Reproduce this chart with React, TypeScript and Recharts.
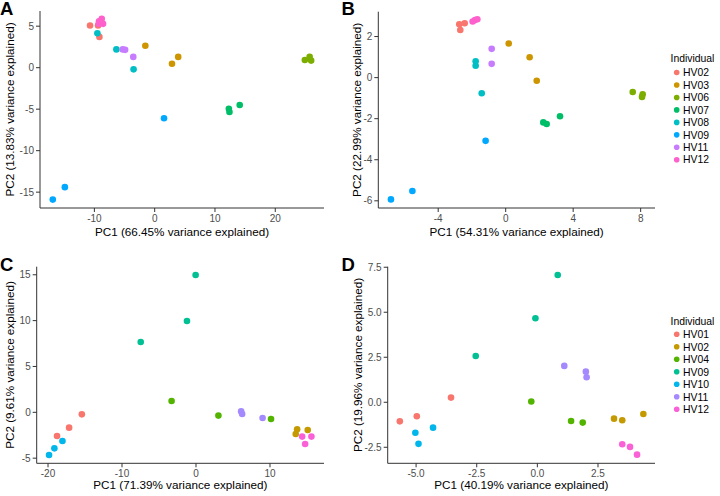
import React from 'react';
import { ScatterChart, Scatter, XAxis, YAxis } from 'recharts';

// ---------- legend / colour tables ----------
const individualsTop = ['HV02', 'HV03', 'HV06', 'HV07', 'HV08', 'HV09', 'HV11', 'HV12'];
const colorsTop = ['#F8766D', '#CD9600', '#7CAE00', '#00BE67', '#00BFC4', '#00A9FF', '#C77CFF', '#FF61CC'];
const individualsBottom = ['HV01', 'HV02', 'HV04', 'HV09', 'HV10', 'HV11', 'HV12'];
const colorsBottom = ['#F8766D', '#C49A00', '#53B400', '#00C094', '#00B6EB', '#A58AFF', '#FB61D7'];

// ---------- panel A (PC1, PC2) ----------
const aHV02 = [[-10.72, 5.08], [-9.39, 5.08], [-9.17, 3.71]];
const aHV03 = [[-1.55, 2.65], [2.87, 0.48], [3.9, 1.3]];
const aHV06 = [[24.9, 0.93], [25.7, 1.3], [25.95, 0.85]];
const aHV07 = [[12.3, -4.95], [12.4, -5.35], [14.1, -4.5]];
const aHV08 = [[-9.5, 4.15], [-6.35, 2.2], [-3.5, -0.2]];
const aHV09 = [[1.55, -6.1], [-14.9, -14.4], [-16.9, -15.9]];
const aHV11 = [[-5.3, 2.2], [-4.9, 2.15], [-3.55, 1.3]];
const aHV12 = [[-8.78, 5.89], [-9.23, 5.6], [-8.56, 5.28], [-9.28, 5.28]];

// ---------- panel B ----------
const bHV02 = [[-2.75, 2.6], [-2.43, 2.65], [-2.69, 2.32]];
const bHV03 = [[0.18, 1.66], [1.42, 0.99], [1.84, -0.15]];
const bHV06 = [[7.53, -0.7], [8.12, -0.81], [8.08, -0.94]];
const bHV07 = [[2.23, -2.18], [2.43, -2.26], [3.22, -1.88]];
const bHV08 = [[-1.78, 0.8], [-1.78, 0.58], [-1.42, -0.76]];
const bHV09 = [[-1.19, -3.08], [-5.53, -5.52], [-6.8, -5.93]];
const bHV11 = [[-0.83, 1.4], [-0.83, 0.67]];
const bHV12 = [[-1.96, 2.73], [-1.82, 2.8], [-1.68, 2.84]];

// ---------- panel C ----------
const cHV01 = [[-15.43, -0.22], [-17.15, -1.67], [-18.78, -2.58]];
const cHV02 = [[13.67, -1.85], [13.48, -2.36], [15.1, -1.93]];
const cHV04 = [[-3.3, 1.24], [3.03, -0.36], [10.14, -0.73]];
const cHV09 = [[-0.05, 14.98], [-1.22, 9.96], [-7.47, 7.67]];
const cHV10 = [[-18.05, -3.13], [-19.14, -3.93], [-19.86, -4.65]];
const cHV11 = [[6.1, 0.1], [6.24, -0.18], [9.0, -0.62]];
const cHV12 = [[14.35, -2.65], [14.75, -3.45], [15.6, -2.65]];

// ---------- panel D ----------
const dHV01 = [[-5.67, -1.06], [-4.97, -0.78], [-3.56, 0.26]];
const dHV02 = [[3.16, -0.91], [3.5, -1.0], [4.37, -0.65]];
const dHV04 = [[-0.25, 0.04], [1.39, -1.04], [1.87, -1.13]];
const dHV09 = [[0.84, 7.07], [-0.08, 4.67], [-2.54, 2.57]];
const dHV10 = [[-5.03, -1.69], [-4.9, -2.31], [-4.3, -1.41]];
const dHV11 = [[1.11, 2.02], [2.0, 1.7], [2.03, 1.39]];
const dHV12 = [[3.5, -2.33], [3.82, -2.48], [4.11, -2.91]];

// ---------- tick labels ----------
const aXTicks = [-10, 0, 10, 20];
const aYTicks = [-15, -10, -5, 0, 5];
const bXTicks = [-4, 0, 4, 8];
const bYTicks = [-6, -4, -2, 0, 2];
const cXTicks = [-20, -10, 0, 10];
const cYTicks = [-5, 0, 5, 10, 15];
const dXTicks = [-5, -2.5, 0, 2.5];
const dYTicks = [-2.5, 0, 2.5, 5, 7.5];

const FONT = "'Liberation Sans', Arial, Helvetica, sans-serif";
const toPts = (arr: number[][]) => arr.map(([x, y]) => ({ x, y }));

type PanelProps = {
  left: number; top: number; width: number; height: number;
  marginTop: number; marginRight: number;
  yAxisWidth: number; xAxisHeight: number;
  xDomain: [number, number]; yDomain: [number, number];
  xTicks: number[]; yTicks: number[];
  xTitle: string; yTitle: string;
  xTitleOffset: number; yTitleOffset: number;
  series: number[][][]; colors: string[]; names: string[];
  decimals: number;
};

function Panel(p: PanelProps) {
  const fmt = (v: number) => (p.decimals > 0 ? v.toFixed(p.decimals) : String(v));
  return (
    <div style={{ position: 'absolute', left: p.left, top: p.top }}>
      <ScatterChart
        width={p.width}
        height={p.height}
        margin={{ top: p.marginTop, right: p.marginRight, bottom: 0, left: 0 }}
        style={{ fontFamily: FONT }}
      >
        <XAxis
          type="number"
          dataKey="x"
          domain={p.xDomain}
          ticks={p.xTicks}
          allowDataOverflow
          height={p.xAxisHeight}
          tickSize={4}
          tickMargin={3}
          tickFormatter={fmt}
          axisLine={{ stroke: '#333333', strokeWidth: 1 }}
          tickLine={{ stroke: '#333333', strokeWidth: 1 }}
          tick={{ fill: '#4D4D4D', fontSize: 10, fontFamily: FONT }}
          label={{
            value: p.xTitle,
            position: 'insideBottom',
            offset: p.xTitleOffset,
            style: { fill: '#000000', fontSize: 11.7, fontFamily: FONT },
          }}
        />
        <YAxis
          type="number"
          dataKey="y"
          domain={p.yDomain}
          ticks={p.yTicks}
          allowDataOverflow
          width={p.yAxisWidth}
          tickSize={4}
          tickMargin={2}
          tickFormatter={fmt}
          axisLine={{ stroke: '#333333', strokeWidth: 1 }}
          tickLine={{ stroke: '#333333', strokeWidth: 1 }}
          tick={{ fill: '#4D4D4D', fontSize: 10, fontFamily: FONT }}
          label={{
            value: p.yTitle,
            angle: -90,
            position: 'insideLeft',
            offset: p.yTitleOffset,
            style: { fill: '#000000', fontSize: 11.7, fontFamily: FONT, textAnchor: 'middle' },
          }}
        />
        {p.series.map((s, i) => (
          <Scatter
            key={p.names[i]}
            name={p.names[i]}
            data={toPts(s)}
            fill={p.colors[i]}
            isAnimationActive={false}
            shape={(props: any) => (
              <circle cx={props.cx} cy={props.cy} r={3.3} fill={p.colors[i]} />
            )}
          />
        ))}
      </ScatterChart>
    </div>
  );
}

function LegendBlock({ x, titleY, firstY, step, names, colors }: {
  x: number; titleY: number; firstY: number; step: number; names: string[]; colors: string[];
}) {
  return (
    <g fontFamily={FONT}>
      <text x={x} y={titleY + 3.7} fontSize={10.4} fill="#000">Individual</text>
      {names.map((n, i) => (
        <g key={n}>
          <circle cx={x + 6.2} cy={firstY + i * step} r={2.8} fill={colors[i]} />
          <text x={x + 12.5} y={firstY + i * step + 3.7} fontSize={10.4} fill="#000">{n}</text>
        </g>
      ))}
    </g>
  );
}

export default function App() {
  return (
    <div style={{ position: 'absolute', left: 0, top: 0, width: 720, height: 496, background: '#ffffff', overflow: 'hidden' }}>
      <Panel
        left={0} top={0} width={330} height={245}
        marginTop={11} marginRight={6} yAxisWidth={40} xAxisHeight={37}
        xDomain={[-19.02, 28.08]} yDomain={[-16.91, 6.83]}
        xTicks={aXTicks} yTicks={aYTicks}
        xTitle="PC1 (66.45% variance explained)" yTitle="PC2 (13.83% variance explained)"
        xTitleOffset={9} yTitleOffset={10}
        series={[aHV02, aHV03, aHV06, aHV07, aHV08, aHV09, aHV11, aHV12]}
        colors={colorsTop} names={individualsTop} decimals={0}
      />
      <Panel
        left={320} top={0} width={400} height={245}
        marginTop={11.7} marginRight={65} yAxisWidth={58.3} xAxisHeight={37}
        xDomain={[-7.55, 8.85]} yDomain={[-6.35, 3.21]}
        xTicks={bXTicks} yTicks={bYTicks}
        xTitle="PC1 (54.31% variance explained)" yTitle="PC2 (22.99% variance explained)"
        xTitleOffset={9} yTitleOffset={37}
        series={[bHV02, bHV03, bHV06, bHV07, bHV08, bHV09, bHV11, bHV12]}
        colors={colorsTop} names={individualsTop} decimals={0}
      />
      <Panel
        left={0} top={245} width={330} height={251}
        marginTop={21.7} marginRight={6} yAxisWidth={36.7} xAxisHeight={32.7}
        xDomain={[-21.53, 17.3]} yDomain={[-5.56, 15.88]}
        xTicks={cXTicks} yTicks={cYTicks}
        xTitle="PC1 (71.39% variance explained)" yTitle="PC2 (9.61% variance explained)"
        xTitleOffset={7} yTitleOffset={9.5}
        series={[cHV01, cHV02, cHV04, cHV09, cHV10, cHV11, cHV12]}
        colors={colorsBottom} names={individualsBottom} decimals={0}
      />
      <Panel
        left={320} top={245} width={400} height={251}
        marginTop={21.7} marginRight={65} yAxisWidth={67.7} xAxisHeight={32.7}
        xDomain={[-6.17, 4.85]} yDomain={[-3.39, 7.53]}
        xTicks={dXTicks} yTicks={dYTicks}
        xTitle="PC1 (40.19% variance explained)" yTitle="PC2 (19.96% variance explained)"
        xTitleOffset={7} yTitleOffset={37.5}
        series={[dHV01, dHV02, dHV04, dHV09, dHV10, dHV11, dHV12]}
        colors={colorsBottom} names={individualsBottom} decimals={1}
      />
      <svg width={720} height={496} style={{ position: 'absolute', left: 0, top: 0, pointerEvents: 'none' }}>
        <g fontFamily={FONT} fontWeight="bold" fontSize={18.5} fill="#000">
          <text x={0} y={14.5}>A</text>
          <text x={341.6} y={14.5}>B</text>
          <text x={0} y={270.5}>C</text>
          <text x={341.5} y={270.5}>D</text>
        </g>
        <LegendBlock x={670.5} titleY={58.5} firstY={72.5} step={12.47} names={individualsTop} colors={colorsTop} />
        <LegendBlock x={670.5} titleY={321} firstY={334.3} step={12.5} names={individualsBottom} colors={colorsBottom} />
      </svg>
    </div>
  );
}
